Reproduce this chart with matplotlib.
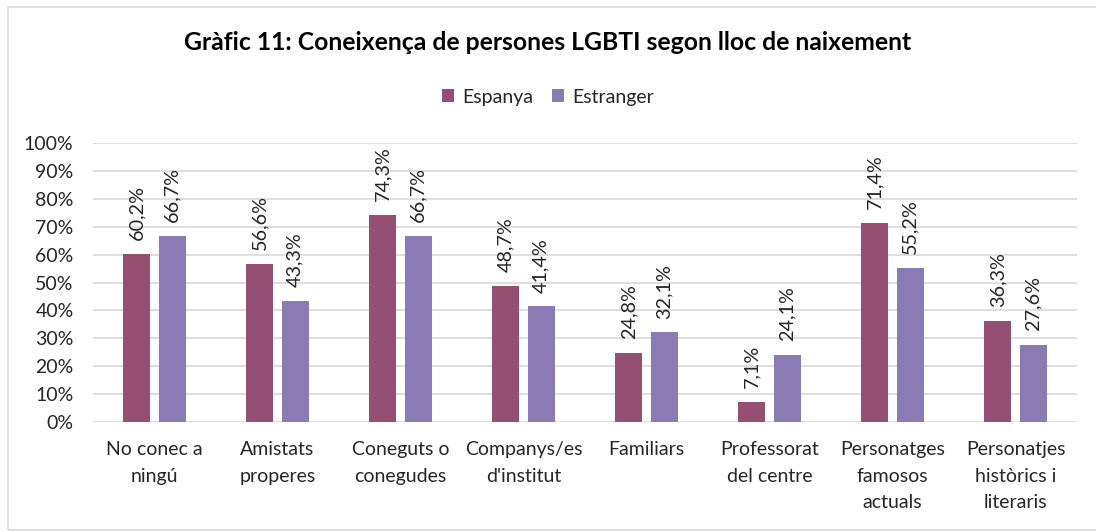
import matplotlib
matplotlib.use("Agg")
import matplotlib.pyplot as plt
from matplotlib.patches import Rectangle
import numpy as np

categories = ["No conec a\nningú", "Amistats\nproperes", "Coneguts o\nconegudes",
              "Companys/es\nd'institut", "Familiars", "Professorat\ndel centre",
              "Personatges\nfamosos\nactuals", "Personatjes\nhistòrics i\nliteraris"]
espanya = [60.2, 56.6, 74.3, 48.7, 24.8, 7.1, 71.4, 36.3]
estranger = [66.7, 43.3, 66.7, 41.4, 32.1, 24.1, 55.2, 27.6]
series_names = ["Espanya", "Estranger"]
yticks = list(range(0, 101, 10))

c1 = "#954F72"
c2 = "#8B7BB4"
txt = "#262626"

plt.rcParams['font.family'] = ['Lato', 'DejaVu Sans']

fig = plt.figure(figsize=(10.96, 5.32), dpi=100)
ax = fig.add_axes([93/1096, 1-422/532, (1077-93)/1096, (422-143)/532])

x = np.arange(len(categories))
w = 0.22
off = 0.143
b1 = ax.bar(x - off, espanya, w, color=c1, label=series_names[0], zorder=3)
b2 = ax.bar(x + off, estranger, w, color=c2, label=series_names[1], zorder=3)

def fmt(v):
    return f"{v:.1f}%".replace(".", ",")

for bars, vals in ((b1, espanya), (b2, estranger)):
    for rect, v in zip(bars, vals):
        ax.annotate(fmt(v), (rect.get_x() + rect.get_width()/2, v),
                    xytext=(0, 10), textcoords="offset points",
                    rotation=90, ha="center", va="bottom", fontsize=14.3, color=txt)

ax.set_xlim(-0.5, len(categories) - 0.5)
ax.set_ylim(0, 100)
ax.set_yticks(yticks)
ax.set_yticklabels([f"{t}%" for t in yticks], fontsize=14, color=txt)
ax.set_xticks(x)
ax.set_xticklabels(categories, fontsize=14, color=txt, linespacing=1.68)
ax.tick_params(axis='both', length=0)
ax.tick_params(axis='x', pad=14)
ax.tick_params(axis='y', pad=14)
ax.grid(axis='y', color="#D9D9D9", linewidth=1.2, zorder=0)
for s in ax.spines.values():
    s.set_visible(False)

fig.text(0.5, 1-43/532, "Gràfic 11: Coneixença de persones LGBTI segon lloc de naixement",
         ha="center", va="center", fontsize=17.8, fontweight="bold", color="#000000")

leg = fig.legend(handles=[b1, b2], labels=series_names, loc="center",
                 bbox_to_anchor=(0.5, 1-97/532), ncol=2, frameon=False,
                 fontsize=14, handlelength=0.6, handleheight=0.6,
                 handletextpad=0.4, columnspacing=1.0)
for t in leg.get_texts():
    t.set_color(txt)

fig.patches.append(Rectangle((8/1096, 2/532), 1.0, 523/532,
                             transform=fig.transFigure, fill=False,
                             edgecolor="#D9D9D9", linewidth=1.2))

fig.savefig("out.png", dpi=100)
